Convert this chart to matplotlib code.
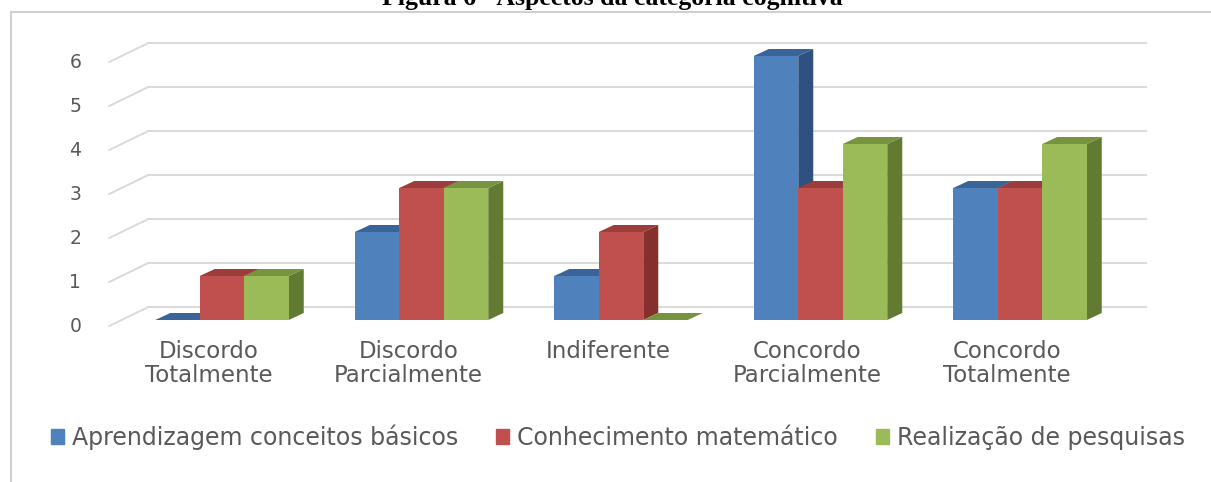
import matplotlib.pyplot as plt
from matplotlib.patches import Polygon, Patch
from matplotlib.lines import Line2D

# Data
categories = ['Discordo\nTotalmente', 'Discordo\nParcialmente', 'Indiferente',
              'Concordo\nParcialmente', 'Concordo\nTotalmente']
series_names = ['Aprendizagem conceitos básicos', 'Conhecimento matemático',
                'Realização de pesquisas']
aprendizagem = [0, 2, 1, 6, 3]
conhecimento = [1, 3, 2, 3, 3]
pesquisas = [1, 3, 0, 4, 4]
yticks = [0, 1, 2, 3, 4, 5, 6]

series = [aprendizagem, conhecimento, pesquisas]
front_colors = ['#4F81BD', '#C0504D', '#9BBB59']
top_colors = ['#3A6497', '#9B3D3A', '#78933F']
side_colors = ['#2F5180', '#86302E', '#637A33']
grid_color = '#D9D9D9'
text_color = '#595959'

W, H = 1211, 482
fig = plt.figure(figsize=(W / 100, H / 100), dpi=100)

# chart border (left and top edges visible)
fig.add_artist(Line2D([11 / W, 11 / W], [0, 1 - 12 / H], color='#D0D0D0', lw=1.5))
fig.add_artist(Line2D([11 / W, 1], [1 - 12 / H, 1 - 12 / H], color='#D0D0D0', lw=1.5))

fig.text(612 / W, 1 - 5 / H, 'Figura 6 - Aspectos da categoria cognitiva',
         ha='center', va='baseline', fontsize=18.5, fontweight='bold',
         family='Liberation Serif')

# axes = front plane of the bars
ax_l, ax_r = 122.25, 1119.75
ax_b, ax_t = 320, 56
ax = fig.add_axes([ax_l / W, 1 - ax_b / H, (ax_r - ax_l) / W, (ax_b - ax_t) / H])
ax.set_xlim(-0.5, len(categories) - 0.5)
ax.set_ylim(0, 6)
ax.axis('off')

ux = (ax_r - ax_l) / len(categories)   # px per category
uy = (ax_b - ax_t) / 6                 # px per unit


def px(dx, dy):
    return dx / ux, dy / uy


wall = px(26, 13)      # back wall offset
front = px(-13, -6)    # front edge of floor
depth = px(15, 7)      # bar depth

xl, xr = -0.5, len(categories) - 0.5
for v in yticks:
    ax.plot([xl + wall[0], xr + wall[0]], [v + wall[1]] * 2, color=grid_color,
            lw=1.4, zorder=1, clip_on=False)
    ax.plot([xl + front[0], xl + wall[0]], [v + front[1], v + wall[1]],
            color=grid_color, lw=1.4, zorder=1, clip_on=False)
    ax.text(xl + px(-41, 0)[0], v + px(0, -6)[1], str(v), ha='right', va='center',
            fontsize=13.5, color=text_color)

bw = 44.5 / ux
z = 2
for i in range(len(categories)):
    for j, vals in enumerate(series):
        v = vals[i]
        x0 = i - 1.5 * bw + j * bw
        dx, dy = depth
        side = Polygon([(x0 + bw, 0), (x0 + bw + dx, dy), (x0 + bw + dx, v + dy),
                        (x0 + bw, v)], closed=True, fc=side_colors[j], ec='none',
                       zorder=z, clip_on=False)
        ax.add_patch(side)
        ax.bar(x0, v, width=bw, align='edge', color=front_colors[j], zorder=z + 0.1,
               clip_on=False)
        top = Polygon([(x0, v), (x0 + bw, v), (x0 + bw + dx, v + dy), (x0 + dx, v + dy)],
                      closed=True, fc=top_colors[j], ec='none', zorder=z + 0.2,
                      clip_on=False)
        ax.add_patch(top)
        z += 1

for i, cat in enumerate(categories):
    ax.text(i + px(-13, 0)[0], px(0, -20)[1], cat, ha='center', va='top',
            fontsize=16.5, color=text_color, linespacing=1.05)

handles = [Patch(color=c) for c in front_colors]
fig.legend(handles, series_names, loc='center', bbox_to_anchor=(618 / W, 1 - 437 / H),
           ncol=3, frameon=False, fontsize=17, labelcolor=text_color,
           handlelength=0.55, handleheight=0.55, handletextpad=0.35, columnspacing=1.6)

fig.savefig('out.png', dpi=100)
